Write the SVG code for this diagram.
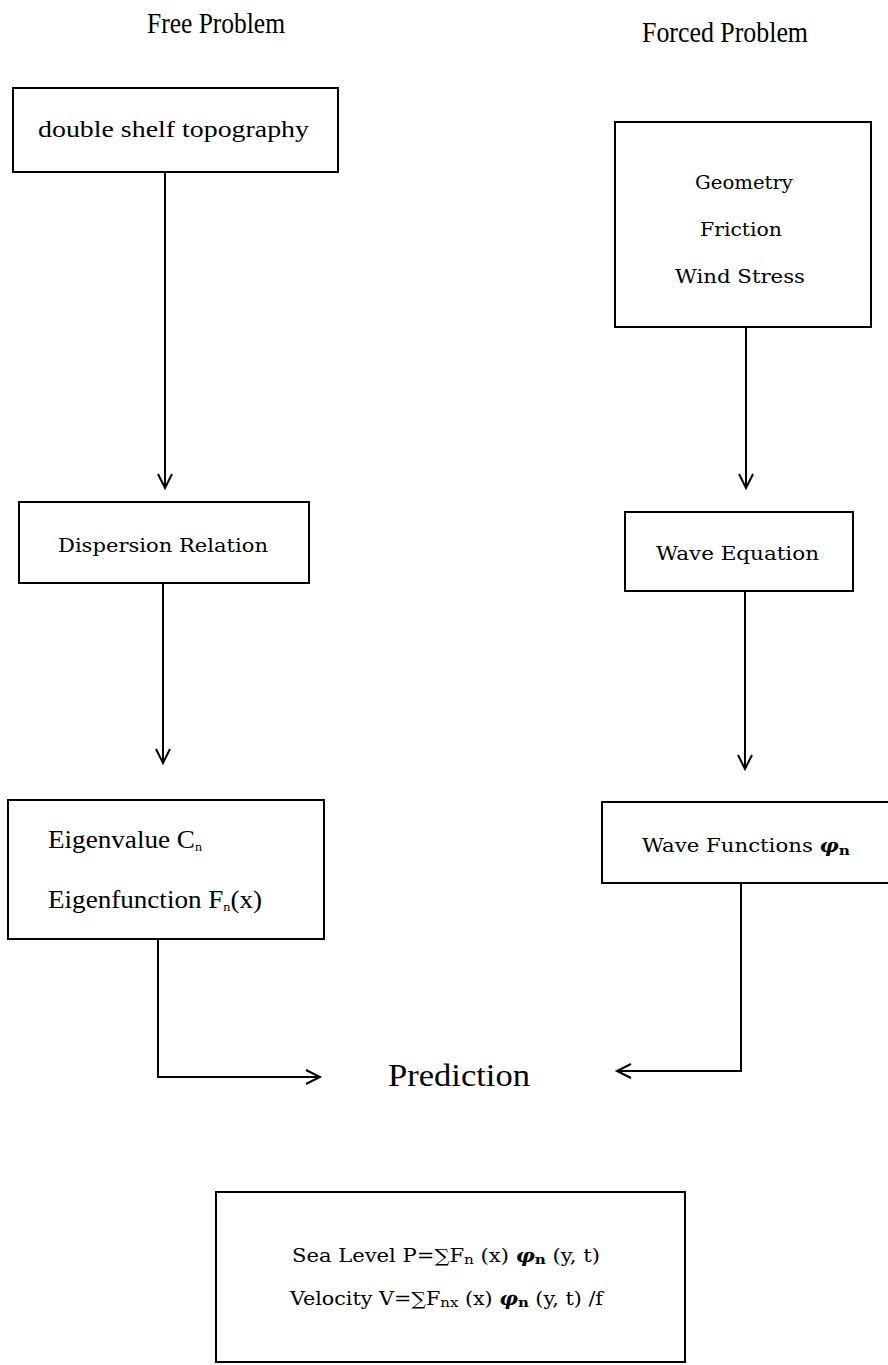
<svg xmlns="http://www.w3.org/2000/svg" width="888" height="1365" viewBox="0 0 888 1365">
<style>
.box{fill:none;stroke:#000;stroke-width:2}
.ln{fill:none;stroke:#000;stroke-width:2}
.n{font-family:"Liberation Serif","Times New Roman",serif;fill:#000}
.w{font-family:"DejaVu Serif","Liberation Serif",serif;fill:#000}
.sub{font-size:13px}
</style>
<defs>
<marker id="ah" markerUnits="userSpaceOnUse" markerWidth="20" markerHeight="20" refX="15" refY="8" orient="auto">
<path d="M1,1 L15,8 L1,15" fill="none" stroke="#000" stroke-width="2"/>
</marker>
</defs>
<g id="titles">
<text class="n" x="216" y="33" font-size="29" text-anchor="middle" textLength="138" lengthAdjust="spacingAndGlyphs">Free Problem</text>
<text class="n" x="725" y="42" font-size="29" text-anchor="middle" textLength="166" lengthAdjust="spacingAndGlyphs">Forced Problem</text>
</g>
<g id="topography">
<rect class="box" x="13" y="88" width="325" height="84"/>
<text class="n" x="38" y="137" font-size="24" textLength="271" lengthAdjust="spacingAndGlyphs">double shelf topography</text>
</g>
<g id="forcing">
<rect class="box" x="615" y="122" width="256" height="205"/>
<text class="w" x="744" y="189" font-size="18" text-anchor="middle" textLength="98" lengthAdjust="spacingAndGlyphs">Geometry</text>
<text class="w" x="741" y="236" font-size="18" text-anchor="middle" textLength="82" lengthAdjust="spacingAndGlyphs">Friction</text>
<text class="w" x="740" y="283" font-size="18" text-anchor="middle" textLength="130" lengthAdjust="spacingAndGlyphs">Wind Stress</text>
</g>
<g id="dispersion">
<rect class="box" x="19" y="502" width="290" height="81"/>
<text class="w" x="58" y="552" font-size="18" textLength="210" lengthAdjust="spacingAndGlyphs">Dispersion Relation</text>
</g>
<g id="waveeq">
<rect class="box" x="625" y="512" width="228" height="79"/>
<text class="w" x="656" y="560" font-size="18" textLength="163" lengthAdjust="spacingAndGlyphs">Wave Equation</text>
</g>
<g id="eigen">
<rect class="box" x="8" y="800" width="316" height="139"/>
<text class="n" x="48" y="848" font-size="25" textLength="154" lengthAdjust="spacingAndGlyphs">Eigenvalue  C<tspan class="sub" dy="3">n</tspan></text>
<text class="n" x="48" y="908" font-size="25" textLength="214" lengthAdjust="spacingAndGlyphs">Eigenfunction  F<tspan class="sub" dy="3">n</tspan><tspan dy="-3">(x)</tspan></text>
</g>
<g id="wavefun">
<rect class="box" x="602" y="802" width="290" height="81"/>
<text class="w" x="642" y="852" font-size="18" textLength="208" lengthAdjust="spacingAndGlyphs">Wave  Functions  <tspan font-style="italic" font-weight="bold">φ</tspan><tspan class="sub" font-weight="bold" dy="3">n</tspan></text>
</g>
<g id="prediction">
<text class="n" x="459" y="1086" font-size="31" text-anchor="middle" textLength="142" lengthAdjust="spacingAndGlyphs">Prediction</text>
</g>
<g id="result">
<rect class="box" x="216" y="1192" width="469" height="170"/>
<text class="w" x="292" y="1262" font-size="18" textLength="308" lengthAdjust="spacingAndGlyphs">Sea  Level  P=∑F<tspan class="sub" dy="2">n</tspan><tspan dy="-2"> (x) </tspan><tspan font-style="italic" font-weight="bold">φ</tspan><tspan class="sub" font-weight="bold" dy="2">n</tspan><tspan dy="-2"> (y, t)</tspan></text>
<text class="w" x="290" y="1305" font-size="18" textLength="313" lengthAdjust="spacingAndGlyphs">Velocity  V=∑F<tspan class="sub" dy="2">nx</tspan><tspan dy="-2"> (x) </tspan><tspan font-style="italic" font-weight="bold">φ</tspan><tspan class="sub" font-weight="bold" dy="2">n</tspan><tspan dy="-2"> (y, t) /f</tspan></text>
</g>
<g id="connectors">
<line class="ln" x1="165" y1="172" x2="165" y2="488" marker-end="url(#ah)"/>
<line class="ln" x1="746" y1="327" x2="746" y2="488" marker-end="url(#ah)"/>
<line class="ln" x1="163" y1="583" x2="163" y2="763" marker-end="url(#ah)"/>
<line class="ln" x1="745" y1="591" x2="745" y2="769" marker-end="url(#ah)"/>
<polyline class="ln" points="158,939 158,1077 320,1077" marker-end="url(#ah)"/>
<polyline class="ln" points="741,883 741,1071 617,1071" marker-end="url(#ah)"/>
</g>
</svg>
